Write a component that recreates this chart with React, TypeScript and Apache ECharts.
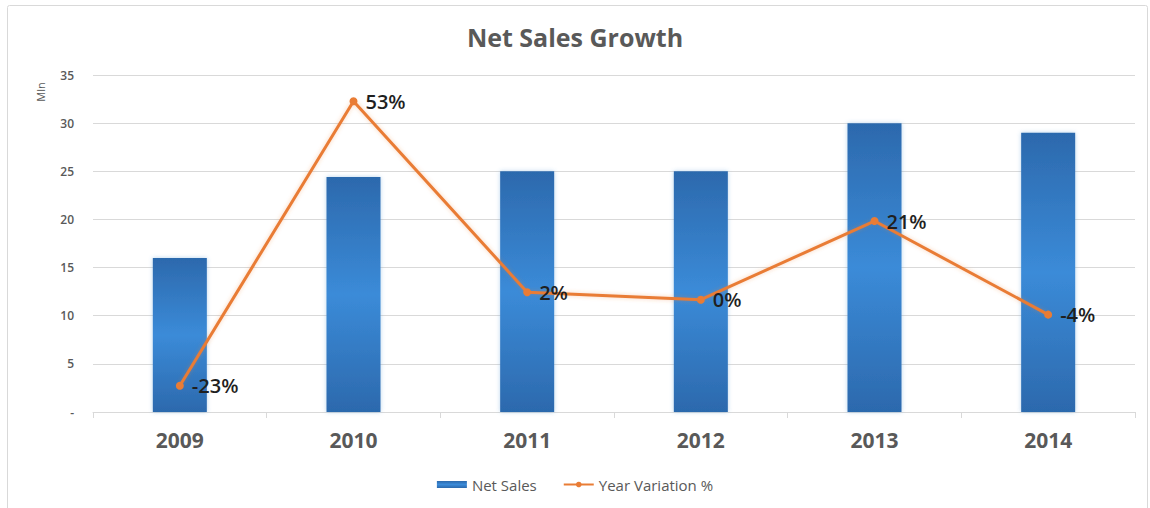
import React, { useEffect, useRef } from "react";
import * as echarts from "echarts";

const years = ["2009", "2010", "2011", "2012", "2013", "2014"];
const netSales = [16, 24.4, 25, 25, 30, 29];
const yearVariation = [-0.23, 0.53, 0.02, 0.0, 0.21, -0.04];
const salesTicks = { min: 0, max: 35, interval: 5 };
const variationRange = { min: -0.3, max: 0.6 };

const FONT = "'Open Sans', 'Noto Sans', sans-serif";
const GREY = "#595959";

export default function App() {
  const ref = useRef<HTMLDivElement>(null);

  useEffect(() => {
    if (!ref.current) return;
    const chart = echarts.init(ref.current, null, { renderer: "svg" });

    const barFill = new echarts.graphic.LinearGradient(0, 0, 0, 1, [
      { offset: 0, color: "#2c69ad" },
      { offset: 0.5, color: "#3b8bd8" },
      { offset: 1, color: "#2c69ad" },
    ]);

    chart.setOption({
      animation: false,
      backgroundColor: "#ffffff",
      textStyle: { fontFamily: FONT },
      title: {
        text: "Net Sales Growth",
        left: "center",
        top: 19,
        textStyle: { fontFamily: FONT, fontSize: 25, fontWeight: "bold", color: GREY },
      },
      graphic: [
        {
          type: "rect",
          shape: { x: 7.5, y: 5.5, width: 1140, height: 540, r: 2 },
          style: { fill: "none", stroke: "#d9d9d9", lineWidth: 1 },
          silent: true,
        },
        {
          type: "text",
          x: 40,
          y: 92,
          rotation: Math.PI / 2,
          style: {
            text: "Mln",
            fontFamily: FONT,
            fontSize: 11,
            fill: GREY,
            align: "center",
            verticalAlign: "middle",
          },
        },
      ],
      legend: {
        bottom: 11,
        left: "center",
        itemGap: 26,
        itemWidth: 30,
        itemHeight: 7,
        textStyle: { fontFamily: FONT, fontSize: 15, color: GREY },
        data: [
          { name: "Net Sales", icon: "rect" },
          { name: "Year Variation %" },
        ],
      },
      grid: { left: 93, right: 15, top: 75, bottom: 96 },
      xAxis: {
        type: "category",
        data: years,
        axisLine: { lineStyle: { color: "#d9d9d9", width: 1 } },
        axisTick: { show: true, length: 6, lineStyle: { color: "#d9d9d9" } },
        axisLabel: {
          fontFamily: FONT,
          fontSize: 21,
          fontWeight: "bold",
          color: GREY,
          margin: 17,
        },
      },
      yAxis: [
        {
          type: "value",
          min: salesTicks.min,
          max: salesTicks.max,
          interval: salesTicks.interval,
          axisLine: { show: false },
          axisTick: { show: false },
          splitLine: { lineStyle: { color: "#d9d9d9", width: 1 } },
          axisLabel: {
            fontFamily: FONT,
            fontSize: 12,
            fontWeight: 600,
            color: GREY,
            margin: 19,
            formatter: (v: number) => (v === 0 ? "-" : String(v)),
          },
        },
        {
          type: "value",
          min: variationRange.min,
          max: variationRange.max,
          show: false,
          splitLine: { show: false },
        },
      ],
      series: [
        {
          name: "Net Sales",
          type: "bar",
          data: netSales,
          barWidth: 54,
          itemStyle: {
            color: barFill,
            shadowColor: "rgba(91,155,213,0.45)",
            shadowBlur: 4,
          },
        },
        {
          name: "Year Variation %",
          type: "line",
          yAxisIndex: 1,
          data: yearVariation,
          symbol: "circle",
          symbolSize: 8,
          lineStyle: {
            color: "#e97c35",
            width: 3,
            shadowColor: "rgba(237,125,49,0.35)",
            shadowBlur: 4,
          },
          itemStyle: { color: "#e97c35" },
          label: {
            show: true,
            position: "right",
            distance: 8,
            fontFamily: FONT,
            fontSize: 20,
            fontWeight: 600,
            color: "#1f1f1f",
            formatter: (p: any) => `${Math.round(p.value * 100)}%`,
          },
        },
      ],
    });

    return () => chart.dispose();
  }, []);

  return (
    <div
      ref={ref}
      style={{ position: "absolute", left: 0, top: 0, width: 1150, height: 508 }}
    />
  );
}
